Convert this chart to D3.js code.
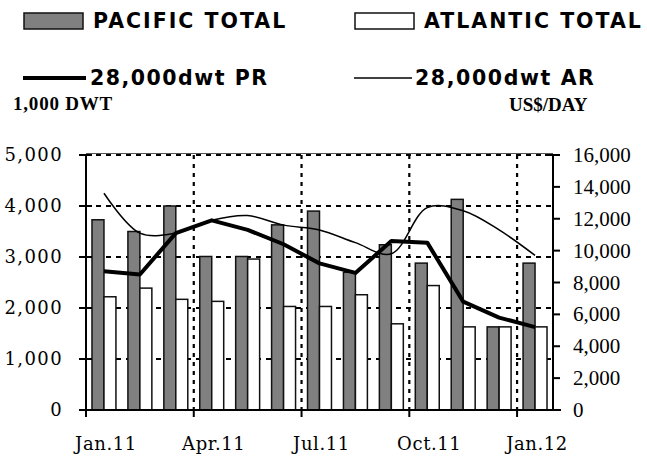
<!DOCTYPE html>
<html>
<head>
<meta charset="utf-8">
<script src="https://cdn.jsdelivr.net/npm/d3@7"></script>
<style>
  body { margin: 0; background: #fff; }
  svg { display: block; }
</style>
</head>
<body>
<svg id="chart" width="647" height="464"></svg>
<script>
// months on the x axis
var months = ["Jan.11", "Feb.11", "Mar.11", "Apr.11", "May.11", "Jun.11", "Jul.11",
              "Aug.11", "Sep.11", "Oct.11", "Nov.11", "Dec.11", "Jan.12"];
// bars, 1,000 dwt (left axis)
var pacificTotal  = [3730, 3500, 4000, 3010, 3010, 3630, 3900, 2700, 3240, 2880, 4130, 1630, 2880];
var atlanticTotal = [2220, 2390, 2170, 2130, 2960, 2030, 2030, 2260, 1690, 2440, 1630, 1630, 1630];
// lines, US$/day (right axis)
var pr28 = [8700, 8500, 11100, 11900, 11300, 10400, 9200, 8600, 10600, 10500, 6800, 5800, 5200];
var ar28 = [13600, 11100, 11100, 11900, 12200, 11600, 11300, 10500, 9800, 12700, 12500, 11300, 9700];
// tick labels
var xLabels = ["Jan.11", "Apr.11", "Jul.11", "Oct.11", "Jan.12"];
var leftTicks = [0, 1000, 2000, 3000, 4000, 5000];
var rightTicks = [0, 2000, 4000, 6000, 8000, 10000, 12000, 14000, 16000];

var plot = { left: 86, right: 553, top: 155, bottom: 410 };

var svg = d3.select("#chart");

var x = d3.scaleBand().domain(months).range([plot.left, plot.right]);
var xs = d3.scaleBand().domain(["pac", "atl"]).range([0, x.bandwidth()]).paddingOuter(0.5);
var yL = d3.scaleLinear().domain([0, 5000]).range([plot.bottom, plot.top]);
var yR = d3.scaleLinear().domain([0, 16000]).range([plot.bottom, plot.top]);
var fmt = d3.format(",");

// grid
var grid = svg.append("g");
grid.append("line")
  .attr("x1", plot.left).attr("x2", plot.right)
  .attr("y1", plot.top - 1.5).attr("y2", plot.top - 1.5)
  .attr("stroke", "#555").attr("stroke-width", 1);
grid.selectAll(".hgrid")
  .data(leftTicks.slice(1))
  .join("line")
  .attr("x1", plot.left).attr("x2", plot.right)
  .attr("y1", d => yL(d)).attr("y2", d => yL(d))
  .attr("stroke", "#000").attr("stroke-width", 2)
  .attr("stroke-dasharray", "5,5");
grid.selectAll(".vgrid")
  .data(xLabels.slice(1))
  .join("line")
  .attr("x1", (d, i) => x(months[(i + 1) * 3])).attr("x2", (d, i) => x(months[(i + 1) * 3]))
  .attr("y1", plot.top).attr("y2", plot.bottom)
  .attr("stroke", "#000").attr("stroke-width", 2.2)
  .attr("stroke-dasharray", "4,5");

// bars
var bars = svg.append("g");
bars.selectAll(".pac")
  .data(pacificTotal)
  .join("rect")
  .attr("x", (d, i) => x(months[i]) + xs("pac"))
  .attr("y", d => yL(d))
  .attr("width", xs.bandwidth())
  .attr("height", d => plot.bottom - yL(d))
  .attr("fill", "#808080").attr("stroke", "#111").attr("stroke-width", 1.5);
bars.selectAll(".atl")
  .data(atlanticTotal)
  .join("rect")
  .attr("x", (d, i) => x(months[i]) + xs("atl"))
  .attr("y", d => yL(d))
  .attr("width", xs.bandwidth())
  .attr("height", d => plot.bottom - yL(d))
  .attr("fill", "#fff").attr("stroke", "#111").attr("stroke-width", 1.5);

// lines
var cx = (d, i) => x(months[i]) + x.bandwidth() / 2;
svg.append("path")
  .datum(ar28)
  .attr("fill", "none").attr("stroke", "#000").attr("stroke-width", 1.5)
  .attr("d", d3.line().x(cx).y(d => yR(d)).curve(d3.curveCatmullRom.alpha(0.5)));
svg.append("path")
  .datum(pr28)
  .attr("fill", "none").attr("stroke", "#000").attr("stroke-width", 4)
  .attr("stroke-linejoin", "round")
  .attr("d", d3.line().x(cx).y(d => yR(d)));

// axes
var axes = svg.append("g").attr("stroke", "#000").attr("stroke-width", 2);
axes.append("line").attr("x1", plot.left).attr("x2", plot.left)
  .attr("y1", plot.top).attr("y2", plot.bottom + 6);
axes.append("line").attr("x1", plot.right).attr("x2", plot.right)
  .attr("y1", plot.top).attr("y2", plot.bottom);
axes.append("line").attr("x1", plot.left - 6).attr("x2", plot.right + 8)
  .attr("y1", plot.bottom).attr("y2", plot.bottom);
axes.selectAll(".lt")
  .data(leftTicks)
  .join("line")
  .attr("x1", plot.left - 7).attr("x2", plot.left + 6)
  .attr("y1", d => yL(d)).attr("y2", d => yL(d));
axes.selectAll(".rt")
  .data(rightTicks)
  .join("line")
  .attr("x1", d => d === 16000 ? plot.right - 8 : plot.right)
  .attr("x2", plot.right + 7)
  .attr("y1", d => yR(d)).attr("y2", d => yR(d));
axes.selectAll(".bt")
  .data(xLabels)
  .join("line")
  .attr("x1", (d, i) => x(months[i * 3])).attr("x2", (d, i) => x(months[i * 3]))
  .attr("y1", plot.bottom).attr("y2", plot.bottom + 7);

// tick labels
svg.append("g")
  .attr("font-family", "'DejaVu Serif', serif").attr("font-size", 18)
  .attr("text-anchor", "end")
  .selectAll("text")
  .data(leftTicks)
  .join("text")
  .attr("x", 63).attr("y", d => yL(d) + 6)
  .attr("letter-spacing", 1.4)
  .text(d => fmt(d));
svg.append("g")
  .attr("font-family", "'Liberation Serif', serif").attr("font-size", 21)
  .selectAll("text")
  .data(rightTicks)
  .join("text")
  .attr("x", 573).attr("y", d => yR(d) + 7)
  .text(d => fmt(d));
svg.append("g")
  .attr("font-family", "'DejaVu Serif', serif").attr("font-size", 18)
  .attr("letter-spacing", 0.6)
  .attr("text-anchor", "middle")
  .selectAll("text")
  .data(xLabels)
  .join("text")
  .attr("x", (d, i) => x(months[i * 3]) + x.bandwidth() / 2 + 2)
  .attr("y", 450)
  .text(d => d);

// unit labels
svg.append("text").attr("x", 13).attr("y", 110)
  .attr("font-family", "'Liberation Serif', serif").attr("font-weight", "bold").attr("font-size", 19)
  .attr("letter-spacing", 0.8)
  .text("1,000 DWT");
svg.append("text").attr("x", 509).attr("y", 111)
  .attr("font-family", "'Liberation Serif', serif").attr("font-weight", "bold").attr("font-size", 19)
  .text("US$/DAY");

// legend
var leg = svg.append("g")
  .attr("font-family", "'DejaVu Sans', sans-serif").attr("font-weight", "bold")
  .attr("font-size", 20.5);
leg.append("rect").attr("x", 24).attr("y", 13).attr("width", 59).attr("height", 16)
  .attr("fill", "#808080").attr("stroke", "#111").attr("stroke-width", 1.5);
leg.append("text").attr("x", 93).attr("y", 28).attr("letter-spacing", 2).text("PACIFIC TOTAL");
leg.append("rect").attr("x", 355).attr("y", 13).attr("width", 59).attr("height", 16)
  .attr("fill", "#fff").attr("stroke", "#111").attr("stroke-width", 1.5);
leg.append("text").attr("x", 424).attr("y", 28).attr("letter-spacing", 2).text("ATLANTIC TOTAL");
leg.append("line").attr("x1", 23).attr("x2", 86).attr("y1", 78).attr("y2", 78)
  .attr("stroke", "#000").attr("stroke-width", 4);
leg.append("text").attr("x", 90).attr("y", 85).attr("letter-spacing", 1.5).text("28,000dwt PR");
leg.append("line").attr("x1", 354).attr("x2", 412).attr("y1", 78).attr("y2", 78)
  .attr("stroke", "#000").attr("stroke-width", 1.5);
leg.append("text").attr("x", 415).attr("y", 85).attr("letter-spacing", 1.6).text("28,000dwt AR");
</script>
</body>
</html>
